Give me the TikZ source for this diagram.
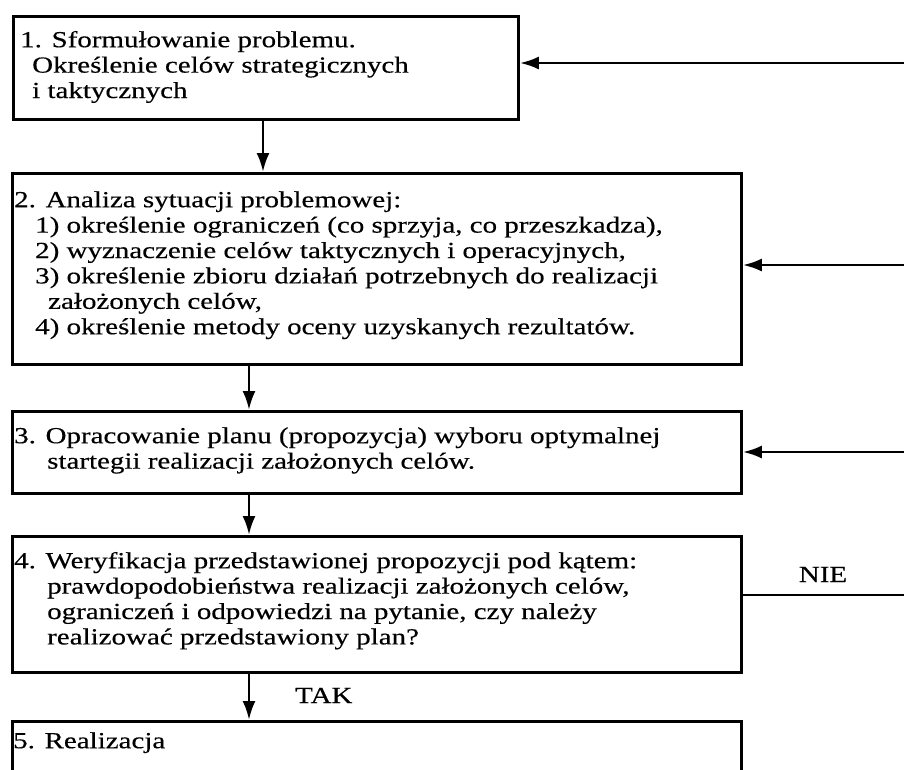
\documentclass[tikz,border=0pt]{standalone}
\usepackage{fontspec}
\setmainfont{Liberation Serif}[FakeStretch=1.26,FakeBold=0.4]
\usetikzlibrary{arrows.meta}
\begin{document}
\begin{tikzpicture}[x=1pt,y=-1pt,
  box/.style={draw=black, line width=2.8pt, rectangle, inner sep=0pt, anchor=north west},
  txt/.style={anchor=north west, inner sep=0pt, align=left, font=\fontsize{23}{25.4}\selectfont},
  lbl/.style={anchor=base, inner sep=0pt, font=\fontsize{23}{25.4}\selectfont},
  arr/.style={line width=2.8pt, -{Latex[length=19pt,width=13pt]}},
  ln/.style={line width=2.8pt}]
\path[use as bounding box, clip] (0,0) rectangle (904,769);
% boxes
\node[box, minimum width=505pt, minimum height=103pt] (b1) at (12,15) {};
\node[box, minimum width=729pt, minimum height=191pt] (b2) at (11,172) {};
\node[box, minimum width=729pt, minimum height=82pt]  (b3) at (11,410) {};
\node[box, minimum width=729pt, minimum height=136pt] (b4) at (11,535) {};
\node[box, minimum width=729pt, minimum height=110pt] (b5) at (11,720) {};
% texts
\node[txt] (t1) at (20,30) {\rule{0pt}{17pt}1. Sformułowanie problemu.\\
\hspace*{12pt}Określenie celów strategicznych\\
\hspace*{12pt}i taktycznych};
\node[txt] (t2) at (14,190) {\rule{0pt}{17pt}2. Analiza sytuacji problemowej:\\
\hspace*{21pt}1) określenie ograniczeń (co sprzyja, co przeszkadza),\\
\hspace*{21pt}2) wyznaczenie celów taktycznych i operacyjnych,\\
\hspace*{21pt}3) określenie zbioru działań potrzebnych do realizacji\\
\hspace*{34pt}założonych celów,\\
\hspace*{21pt}4) określenie metody oceny uzyskanych rezultatów.};
\node[txt] (t3) at (14,426) {\rule{0pt}{17pt}3. Opracowanie planu (propozycja) wyboru optymalnej\\
\hspace*{33pt}startegii realizacji założonych celów.};
\node[txt] (t4) at (14,551) {\rule{0pt}{17pt}4. Weryfikacja przedstawionej propozycji pod kątem:\\
\hspace*{33pt}prawdopodobieństwa realizacji założonych celów,\\
\hspace*{33pt}ograniczeń i odpowiedzi na pytanie, czy należy\\
\hspace*{33pt}realizować przedstawiony plan?};
\node[txt] (t5) at (13,731) {\rule{0pt}{17pt}5. Realizacja};
% labels
\node[lbl] (nie) at (823,582) {NIE};
\node[lbl, anchor=base west] (tak) at (295,703) {TAK};
% helper coordinates
\coordinate (c1) at (263,0);
\coordinate (c2) at (249,0);
\coordinate (r1) at (904,63);
\coordinate (r2) at (904,265);
\coordinate (r3) at (904,452);
\coordinate (r4) at (904,595);
% down arrows
\draw[arr] (b1.south -| c1) -- (b2.north -| c1);
\draw[arr] (b2.south -| c2) -- (b3.north -| c2);
\draw[arr] (b3.south -| c2) -- (b4.north -| c2);
\draw[arr] (b4.south -| c2) -- (b5.north -| c2);
% feedback arrows from the right
\draw[arr] (r1) -- (r1 -| b1.east);
\draw[arr] (r2) -- (r2 -| b2.east);
\draw[arr] (r3) -- (r3 -| b3.east);
\draw[ln] (b4.east |- r4) -- (r4);
\end{tikzpicture}
\end{document}
